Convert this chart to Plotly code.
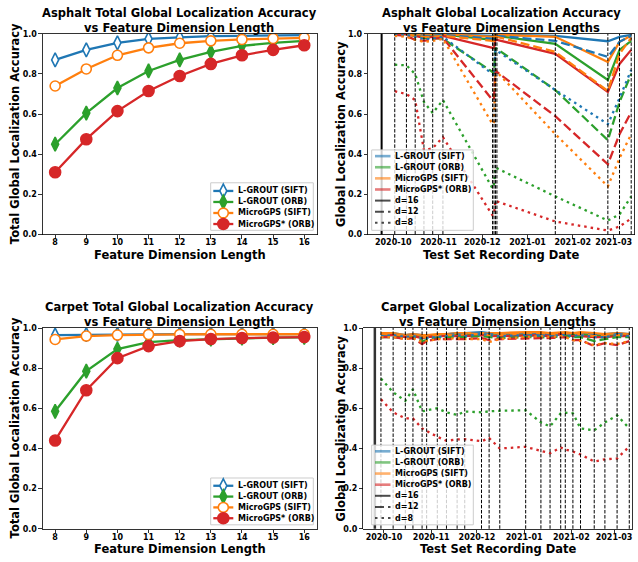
import plotly.graph_objects as go

W, H = 638, 562
FONT = "DejaVu Sans"

# ------------------------------------------------------------------ data
dims = [8, 9, 10, 11, 12, 13, 14, 15, 16]
method_names = ["L-GROUT (SIFT)", "L-GROUT (ORB)", "MicroGPS (SIFT)", "MicroGPS* (ORB)"]
dim_labels = ["d=16", "d=12", "d=8"]
y_ticks = [0.0, 0.2, 0.4, 0.6, 0.8, 1.0]

# total accuracy vs feature dimension length
asphalt_total_lgrout_sift = [0.870, 0.920, 0.955, 0.975, 0.982, 0.988, 0.990, 0.992, 0.993]
asphalt_total_lgrout_orb = [0.450, 0.605, 0.730, 0.815, 0.870, 0.910, 0.940, 0.955, 0.965]
asphalt_total_micro_sift = [0.740, 0.825, 0.893, 0.930, 0.953, 0.965, 0.972, 0.977, 0.980]
asphalt_total_micro_orb = [0.310, 0.475, 0.615, 0.715, 0.790, 0.850, 0.893, 0.920, 0.943]

carpet_total_lgrout_sift = [0.965, 0.967, 0.968, 0.969, 0.970, 0.970, 0.970, 0.970, 0.970]
carpet_total_lgrout_orb = [0.585, 0.785, 0.895, 0.930, 0.940, 0.945, 0.950, 0.952, 0.953]
carpet_total_micro_sift = [0.943, 0.960, 0.965, 0.968, 0.968, 0.969, 0.969, 0.969, 0.969]
carpet_total_micro_orb = [0.440, 0.690, 0.850, 0.910, 0.935, 0.945, 0.950, 0.953, 0.955]

# asphalt per test set
asphalt_marker_date = "2020-09-23"
asphalt_dates = ["2020-10-02", "2020-10-10", "2020-10-16", "2020-10-22", "2020-10-28",
                 "2020-11-04", "2020-12-08", "2020-12-09", "2020-12-10", "2020-12-11",
                 "2021-01-20", "2021-02-25", "2021-03-05", "2021-03-13"]
asphalt_lgrout_sift_d16 = [1.000, 1.000, 0.998, 0.997, 0.997, 0.998, 0.990, 0.990, 0.995, 0.995, 0.990, 0.963, 0.985, 0.995]
asphalt_lgrout_sift_d12 = [1.000, 0.999, 0.995, 0.990, 0.990, 0.995, 0.975, 0.975, 0.990, 0.990, 0.965, 0.885, 0.960, 0.990]
asphalt_lgrout_sift_d8 = [0.995, 0.995, 0.985, 0.975, 0.975, 0.985, 0.800, 0.790, 0.920, 0.915, 0.720, 0.550, 0.680, 0.820]
asphalt_lgrout_orb_d16 = [1.000, 1.000, 0.997, 0.995, 0.995, 0.997, 0.970, 0.970, 0.990, 0.990, 0.950, 0.770, 0.920, 0.965]
asphalt_lgrout_orb_d12 = [0.999, 0.998, 0.990, 0.980, 0.980, 0.975, 0.810, 0.800, 0.930, 0.925, 0.720, 0.470, 0.660, 0.800]
asphalt_lgrout_orb_d8 = [0.846, 0.843, 0.800, 0.660, 0.605, 0.670, 0.230, 0.250, 0.335, 0.330, 0.190, 0.070, 0.100, 0.190]
asphalt_micro_sift_d16 = [1.000, 1.000, 0.998, 0.997, 0.997, 0.998, 0.985, 0.985, 0.995, 0.995, 0.985, 0.860, 0.960, 0.990]
asphalt_micro_sift_d12 = [1.000, 0.998, 0.990, 0.985, 0.985, 0.990, 0.965, 0.965, 0.985, 0.985, 0.910, 0.715, 0.900, 0.980]
asphalt_micro_sift_d8 = [0.990, 0.985, 0.970, 0.960, 0.965, 0.975, 0.550, 0.560, 0.820, 0.810, 0.500, 0.240, 0.380, 0.500]
asphalt_micro_orb_d16 = [1.000, 0.998, 0.990, 0.980, 0.985, 0.990, 0.930, 0.930, 0.970, 0.970, 0.900, 0.710, 0.850, 0.920]
asphalt_micro_orb_d12 = [0.995, 0.990, 0.970, 0.965, 0.975, 0.980, 0.670, 0.680, 0.820, 0.810, 0.590, 0.350, 0.500, 0.610]
asphalt_micro_orb_d8 = [0.714, 0.700, 0.670, 0.420, 0.430, 0.485, 0.095, 0.100, 0.170, 0.165, 0.065, 0.020, 0.040, 0.080]

# carpet per test set
carpet_marker_date = "2020-09-25"
carpet_dates = ["2020-09-29", "2020-10-07", "2020-10-15", "2020-10-20", "2020-10-26", "2020-10-29",
                "2020-11-05", "2020-11-11", "2020-11-18", "2020-11-23", "2020-12-04", "2020-12-09",
                "2020-12-16", "2021-01-02", "2021-01-12", "2021-01-18", "2021-01-25", "2021-01-28",
                "2021-02-02", "2021-02-07", "2021-02-16", "2021-02-23", "2021-03-03", "2021-03-11"]
carpet_lgrout_sift_d16 = [0.970, 0.975, 0.965, 0.970, 0.965, 0.960, 0.965, 0.970, 0.975, 0.975, 0.980, 0.975,
                          0.970, 0.975, 0.970, 0.970, 0.975, 0.975, 0.970, 0.975, 0.970, 0.970, 0.975, 0.970]
carpet_lgrout_sift_d12 = [0.965, 0.970, 0.960, 0.965, 0.955, 0.955, 0.960, 0.965, 0.970, 0.970, 0.975, 0.970,
                          0.965, 0.970, 0.965, 0.965, 0.970, 0.970, 0.965, 0.970, 0.965, 0.960, 0.970, 0.965]
carpet_lgrout_sift_d8 = [0.960, 0.965, 0.955, 0.960, 0.950, 0.950, 0.955, 0.960, 0.965, 0.960, 0.970, 0.965,
                         0.960, 0.965, 0.960, 0.960, 0.965, 0.965, 0.960, 0.965, 0.955, 0.955, 0.965, 0.960]
carpet_lgrout_orb_d16 = [0.965, 0.965, 0.960, 0.965, 0.955, 0.955, 0.960, 0.965, 0.965, 0.965, 0.970, 0.965,
                         0.960, 0.965, 0.960, 0.960, 0.970, 0.970, 0.965, 0.970, 0.960, 0.960, 0.965, 0.965]
carpet_lgrout_orb_d12 = [0.955, 0.955, 0.950, 0.955, 0.935, 0.940, 0.950, 0.955, 0.955, 0.955, 0.960, 0.955,
                         0.950, 0.955, 0.955, 0.950, 0.960, 0.960, 0.955, 0.955, 0.935, 0.945, 0.955, 0.955]
carpet_lgrout_orb_d8 = [0.748, 0.680, 0.637, 0.695, 0.585, 0.590, 0.600, 0.580, 0.567, 0.584, 0.580, 0.585,
                        0.588, 0.590, 0.530, 0.510, 0.575, 0.578, 0.575, 0.500, 0.490, 0.530, 0.565, 0.500]
carpet_micro_sift_d16 = [0.975, 0.975, 0.965, 0.970, 0.965, 0.965, 0.970, 0.970, 0.975, 0.975, 0.975, 0.975,
                         0.975, 0.980, 0.980, 0.975, 0.980, 0.980, 0.975, 0.980, 0.975, 0.970, 0.975, 0.970]
carpet_micro_sift_d12 = [0.970, 0.970, 0.960, 0.965, 0.955, 0.955, 0.965, 0.965, 0.965, 0.970, 0.970, 0.965,
                         0.965, 0.975, 0.975, 0.970, 0.975, 0.975, 0.970, 0.970, 0.960, 0.965, 0.965, 0.965]
carpet_micro_sift_d8 = [0.955, 0.955, 0.945, 0.950, 0.930, 0.935, 0.945, 0.945, 0.950, 0.945, 0.945, 0.930,
                        0.945, 0.955, 0.960, 0.955, 0.960, 0.955, 0.940, 0.935, 0.915, 0.925, 0.920, 0.935]
carpet_micro_orb_d16 = [0.965, 0.965, 0.955, 0.960, 0.950, 0.955, 0.960, 0.960, 0.960, 0.960, 0.965, 0.960,
                        0.960, 0.965, 0.965, 0.960, 0.970, 0.965, 0.960, 0.960, 0.955, 0.955, 0.960, 0.960]
carpet_micro_orb_d12 = [0.955, 0.955, 0.945, 0.950, 0.920, 0.935, 0.945, 0.945, 0.945, 0.945, 0.950, 0.940,
                        0.945, 0.950, 0.950, 0.950, 0.955, 0.955, 0.940, 0.940, 0.910, 0.925, 0.915, 0.935]
carpet_micro_orb_d8 = [0.645, 0.580, 0.550, 0.550, 0.500, 0.487, 0.458, 0.438, 0.445, 0.446, 0.436, 0.452,
                       0.400, 0.408, 0.390, 0.376, 0.405, 0.395, 0.385, 0.370, 0.335, 0.346, 0.350, 0.410]

# ------------------------------------------------------------------ styling
COLORS = ["#1f77b4", "#2ca02c", "#ff7f0e", "#d62728"]
DASHES = ["solid", "9px,4px", "2.5px,4px"]
MARKERS = [  # symbol, fill, size
    ("diamond-tall", "white", 10),
    ("diamond-tall", COLORS[1], 10),
    ("circle", "white", 10),
    ("circle", COLORS[3], 11),
]


def pxx(p):
    return p / W


def pxy(p):
    return 1 - p / H


# axes boxes in pixels: left, right, top, bottom
BOX = {
    "tl": (42.7, 316.7, 30.3, 234.3),
    "tr": (368.0, 634.0, 30.3, 234.3),
    "bl": (42.7, 316.7, 329.3, 533.3),
    "br": (363.3, 632.0, 329.3, 533.3),
}
AXID = {"tl": "", "tr": "2", "bl": "3", "br": "4"}

fig = go.Figure()

totals = {
    "tl": [asphalt_total_lgrout_sift, asphalt_total_lgrout_orb, asphalt_total_micro_sift, asphalt_total_micro_orb],
    "bl": [carpet_total_lgrout_sift, carpet_total_lgrout_orb, carpet_total_micro_sift, carpet_total_micro_orb],
}
for key, series in totals.items():
    for i, vals in enumerate(series):
        sym, fill, size = MARKERS[i]
        fig.add_trace(go.Scatter(
            x=dims, y=vals, mode="lines+markers", name=method_names[i],
            line=dict(color=COLORS[i], width=2.3),
            marker=dict(symbol=sym, size=size, color=fill, line=dict(color=COLORS[i], width=1.6)),
            xaxis="x" + AXID[key], yaxis="y" + AXID[key], showlegend=False))

per_set = {
    "tr": (asphalt_dates, [
        [asphalt_lgrout_sift_d16, asphalt_lgrout_orb_d16, asphalt_micro_sift_d16, asphalt_micro_orb_d16],
        [asphalt_lgrout_sift_d12, asphalt_lgrout_orb_d12, asphalt_micro_sift_d12, asphalt_micro_orb_d12],
        [asphalt_lgrout_sift_d8, asphalt_lgrout_orb_d8, asphalt_micro_sift_d8, asphalt_micro_orb_d8]]),
    "br": (carpet_dates, [
        [carpet_lgrout_sift_d16, carpet_lgrout_orb_d16, carpet_micro_sift_d16, carpet_micro_orb_d16],
        [carpet_lgrout_sift_d12, carpet_lgrout_orb_d12, carpet_micro_sift_d12, carpet_micro_orb_d12],
        [carpet_lgrout_sift_d8, carpet_lgrout_orb_d8, carpet_micro_sift_d8, carpet_micro_orb_d8]]),
}
for key, (dates, groups) in per_set.items():
    for d, group in enumerate(groups):
        for i, vals in enumerate(group):
            fig.add_trace(go.Scatter(
                x=dates, y=vals, mode="lines", name=method_names[i] + " " + dim_labels[d],
                line=dict(color=COLORS[i], width=2.3, dash=DASHES[d]),
                xaxis="x" + AXID[key], yaxis="y" + AXID[key], showlegend=False))

shapes = []
# vertical test-set lines
for key, dates, mdate, mcol, mw in [("tr", asphalt_dates, asphalt_marker_date, "black", 2.0),
                                     ("br", carpet_dates, carpet_marker_date, "#333333", 2.5)]:
    xr = "x" + AXID[key]
    yr = "y" + AXID[key] + " domain"
    shapes.append(dict(type="line", xref=xr, yref=yr, x0=mdate, x1=mdate, y0=0, y1=1,
                       line=dict(color=mcol, width=mw), layer="above"))
    for dt in dates:
        shapes.append(dict(type="line", xref=xr, yref=yr, x0=dt, x1=dt, y0=0, y1=1,
                           line=dict(color="black", width=1, dash="3.5px,1.6px"), layer="above"))

annotations = []
tfont = dict(family=FONT, size=11.5, color="black", weight="bold")
lfont = dict(family=FONT, size=8, color="black", weight="bold")


def legend_box(l, t, r, b):
    shapes.append(dict(type="rect", xref="paper", yref="paper", x0=pxx(l), x1=pxx(r),
                       y0=pxy(b), y1=pxy(t), line=dict(color="#cccccc", width=1),
                       fillcolor="rgba(255,255,255,0.8)", layer="above"))


def legend_text(x, y, txt):
    annotations.append(dict(text=txt, xref="paper", yref="paper", x=pxx(x), y=pxy(y),
                            xanchor="left", yanchor="middle", showarrow=False, font=lfont))


def legend_line(x0, x1, y, color, dash="solid", opacity=1.0, width=2.3):
    shapes.append(dict(type="line", xref="paper", yref="paper", x0=pxx(x0), x1=pxx(x1),
                       y0=pxy(y), y1=pxy(y), opacity=opacity,
                       line=dict(color=color, width=width, dash=dash), layer="above"))


def legend_marker(cx, cy, i):
    sym, fill, size = MARKERS[i]
    if sym == "circle":
        r = size / 2
        shapes.append(dict(type="circle", xref="paper", yref="paper",
                           x0=pxx(cx - r), x1=pxx(cx + r), y0=pxy(cy + r), y1=pxy(cy - r),
                           fillcolor=fill, line=dict(color=COLORS[i], width=1.6), layer="above"))
    else:
        hy = size / 2 * 1.4
        hx = size / 2 * 0.7
        path = (f"M {pxx(cx)},{pxy(cy - hy)} L {pxx(cx + hx)},{pxy(cy)} "
                f"L {pxx(cx)},{pxy(cy + hy)} L {pxx(cx - hx)},{pxy(cy)} Z")
        shapes.append(dict(type="path", xref="paper", yref="paper", path=path,
                           fillcolor=fill, line=dict(color=COLORS[i], width=1.6), layer="above"))


# marker legends (left panels)
for (l, t, r, b), ys in [((210.7, 181.7, 313.3, 230.0), [190.0, 201.2, 212.4, 223.6]),
                         ((210.7, 481.7, 313.3, 529.3), [489.6, 500.6, 511.6, 522.6])]:
    legend_box(l, t, r, b)
    for i, y in enumerate(ys):
        legend_line(213.3, 233.3, y, COLORS[i])
        legend_marker(223.3, y, i)
        legend_text(235.5, y, method_names[i])

# line-style legends (right panels)
for (l, t, r, b), ys in [((371.7, 148.3, 473.3, 230.0), [154.6, 165.9, 177.2, 188.5, 199.8, 211.1, 222.4]),
                         ((371.7, 448.3, 473.3, 529.3), [454.6, 465.9, 477.2, 488.5, 499.8, 511.1, 522.4])]:
    legend_box(l, t, r, b)
    for i in range(4):
        legend_line(375, 390.5, ys[i], COLORS[i], opacity=0.6, width=2.6)
        legend_text(392.5, ys[i], method_names[i])
    for d in range(3):
        legend_line(375, 390.5, ys[4 + d], "black", dash=DASHES[d], opacity=0.7, width=2.0)
        legend_text(392.5, ys[4 + d], dim_labels[d])

# titles and axis labels
titles = {
    "tl": "Asphalt Total Global Localization Accuracy<br>vs Feature Dimension Length",
    "tr": "Asphalt Global Localization Accuracy<br>vs Feature Dimension Lengths",
    "bl": "Carpet Total Global Localization Accuracy<br>vs Feature Dimension Length",
    "br": "Carpet Global Localization Accuracy<br>vs Feature Dimension Lengths",
}
xlabels = {"tl": "Feature Dimension Length", "bl": "Feature Dimension Length",
           "tr": "Test Set Recording Date", "br": "Test Set Recording Date"}
ylabels = {"tl": "Total Global Localization Accuracy", "bl": "Total Global Localization Accuracy",
           "tr": "Global Localization Accuracy", "br": "Global Localization Accuracy"}
ylabel_x = {"tl": 15.0, "bl": 15.0, "tr": 340.7, "br": 341.0}

for key, (l, r, t, b) in BOX.items():
    cx = (l + r) / 2
    annotations.append(dict(text=titles[key], xref="paper", yref="paper", x=pxx(cx), y=pxy(t - 13.4),
                            xanchor="center", yanchor="middle", showarrow=False, font=tfont,
                            borderpad=0))
    annotations.append(dict(text=xlabels[key], xref="paper", yref="paper", x=pxx(cx), y=pxy(b + 21.0),
                            xanchor="center", yanchor="middle", showarrow=False, font=tfont))
    annotations.append(dict(text=ylabels[key], xref="paper", yref="paper", x=pxx(ylabel_x[key]),
                            y=pxy((t + b) / 2), xanchor="center", yanchor="middle", textangle=-90,
                            showarrow=False, font=tfont))


def axis_common():
    return dict(showline=True, linecolor="black", linewidth=0.8, mirror=True,
                ticks="outside", ticklen=3.5, tickwidth=0.8, tickcolor="black",
                showgrid=False, zeroline=False,
                tickfont=dict(family=FONT, size=8, color="black", weight="bold"))


layout_axes = {}
for key, (l, r, t, b) in BOX.items():
    n = AXID[key]
    xa = axis_common()
    xa.update(domain=[pxx(l), pxx(r)], anchor="y" + n, ticklabelstandoff=-3)
    if key in ("tl", "bl"):
        xa.update(range=[7.6, 16.4], tickmode="array", tickvals=dims)
    else:
        rng = ["2020-09-13 16:00", "2021-03-14 22:00"] if key == "tr" else ["2020-09-17 10:00", "2021-03-12 19:00"]
        xa.update(type="date", range=rng, tickformat="%Y-%m", dtick="M1", tick0="2020-10-01")
    ya = axis_common()
    ya.update(domain=[pxy(b), pxy(t)], anchor="x" + n, range=[0, 1],
              tickmode="array", tickvals=y_ticks, tickformat=".1f")
    layout_axes["xaxis" + n] = xa
    layout_axes["yaxis" + n] = ya

fig.update_layout(
    width=W, height=H, margin=dict(l=0, r=0, t=0, b=0),
    paper_bgcolor="white", plot_bgcolor="white", showlegend=False,
    shapes=shapes, annotations=annotations, **layout_axes)

fig.write_html("out.html", config={"displayModeBar": False, "staticPlot": True},
               post_script="document.body.style.margin='0';document.body.style.padding='0';")
